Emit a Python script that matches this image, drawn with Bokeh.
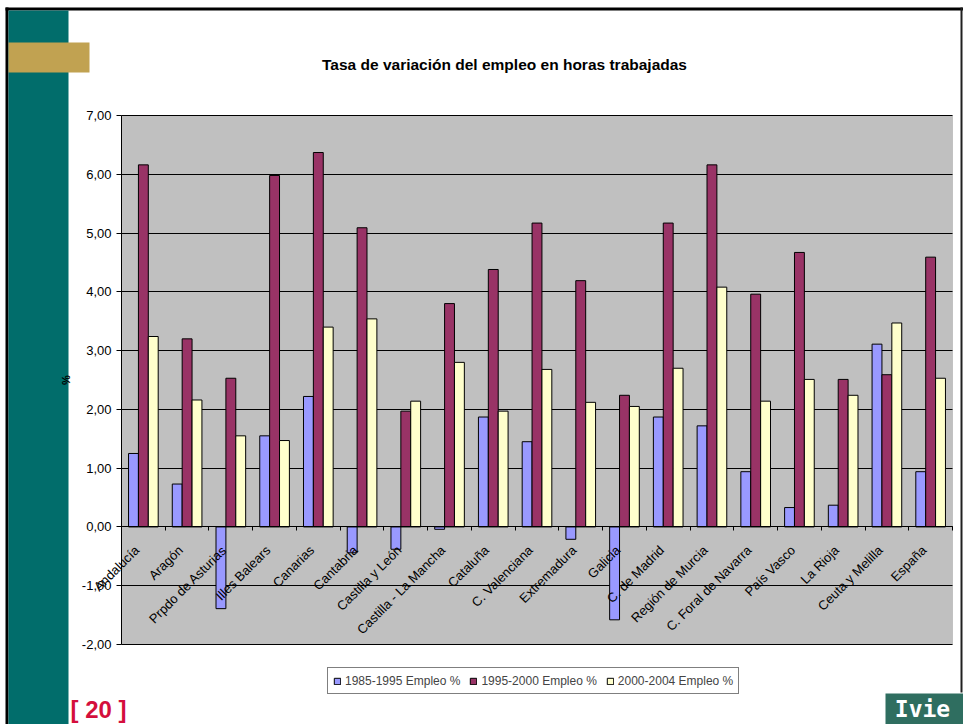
import math
from bokeh.plotting import figure
from bokeh.models import (ColumnDataSource, Range1d, LinearAxis, FixedTicker, Grid,
                          Label, BoxAnnotation, Legend, LegendItem)
from bokeh.embed import file_html
from bokeh.resources import INLINE

# ---------------- data ----------------
categories = ["Andalucía", "Aragón", "Prpdo de Asturias", "Illes Balears", "Canarias",
              "Cantabria", "Castilla y León", "Castilla - La Mancha", "Cataluña",
              "C. Valenciana", "Extremadura", "Galicia", "C. de Madrid",
              "Región de Murcia", "C. Foral de Navarra", "País Vasco", "La Rioja",
              "Ceuta y Melilla", "España"]
empleo_1985_1995 = [1.25, 0.73, -1.39, 1.55, 2.22, -0.44, -0.38, -0.04, 1.87, 1.45,
                    -0.21, -1.58, 1.87, 1.72, 0.94, 0.33, 0.37, 3.11, 0.94]
empleo_1995_2000 = [6.16, 3.20, 2.53, 5.98, 6.37, 5.09, 1.97, 3.80, 4.38, 5.17,
                    4.19, 2.24, 5.17, 6.16, 3.96, 4.67, 2.51, 2.59, 4.59]
empleo_2000_2004 = [3.24, 2.16, 1.55, 1.47, 3.40, 3.54, 2.14, 2.80, 1.97, 2.68,
                    2.12, 2.05, 2.70, 4.08, 2.14, 2.51, 2.24, 3.47, 2.53]
series_names = ["1985-1995 Empleo %", "1995-2000 Empleo %", "2000-2004 Empleo %"]
y_ticks = [-2, -1, 0, 1, 2, 3, 4, 5, 6, 7]
y_tick_labels = ["-2,00", "-1,00", "0,00", "1,00", "2,00", "3,00", "4,00", "5,00", "6,00", "7,00"]
title_text = "Tasa de variación del empleo en horas trabajadas"
y_label = "%"
page_number = "[ 20 ]"
logo_text = "Ivie"

colors = ["#9999FF", "#993366", "#FFFFCC"]
FONT = "Liberation Sans"

# ---------------- layout (pixels) ----------------
W, H = 963, 724
PLOT_L, PLOT_R, PLOT_T, PLOT_B = 121, 952, 115, 644
n = len(categories)
y_lo, y_hi = y_ticks[0], y_ticks[-1]
ux = (PLOT_R - PLOT_L) / n
uy = (PLOT_B - PLOT_T) / (y_hi - y_lo)
x_range = Range1d(-PLOT_L / ux, n + (W - PLOT_R) / ux)
y_range = Range1d(y_lo - (H - PLOT_B) / uy, y_hi + PLOT_T / uy)

centers = [i + 0.5 for i in range(n)]
boundaries = [float(i) for i in range(n + 1)]
label_shift = 6.5 / ux          # rotated labels sit slightly left of the category centre
label_pos = [c - label_shift for c in centers]
bw = 0.226
series = [empleo_1985_1995, empleo_1995_2000, empleo_2000_2004]
offsets = [-bw, 0.0, bw]

p = figure(width=W, height=H, output_backend="svg", toolbar_location=None,
           x_range=x_range, y_range=y_range, title=None,
           x_axis_location=None, y_axis_location=None,
           min_border_left=0, min_border_right=0, min_border_top=0, min_border_bottom=0)
p.background_fill_color = "white"
p.border_fill_color = "white"
p.outline_line_color = None
p.center = [r for r in p.center if not isinstance(r, Grid)]

# plot area
p.add_layout(BoxAnnotation(left=0, right=n, bottom=y_lo, top=y_hi, fill_color="#C0C0C0",
                           fill_alpha=1, line_color="#808080", line_width=1, level="image"))

# grid lines (limited to the plot area)
try:
    grid = Grid(dimension=1, ticker=FixedTicker(ticks=y_ticks), grid_line_color="black",
                grid_line_width=1, cross_bounds=(0, n))
    p.add_layout(grid)
except AttributeError:
    p.segment(x0=[0] * len(y_ticks), x1=[n] * len(y_ticks), y0=y_ticks, y1=y_ticks,
              line_color="black", line_width=1, level="underlay")

renderers = []
for vals, off, col in zip(series, offsets, colors):
    src = ColumnDataSource(dict(x=[c + off for c in centers], top=vals))
    r = p.vbar(x="x", top="top", width=bw, bottom=0, source=src,
               fill_color=col, line_color="black", line_width=1)
    renderers.append(r)

# y axis at x = 0
yax = LinearAxis(ticker=FixedTicker(ticks=y_ticks), fixed_location=0, bounds=(y_lo, y_hi),
                 major_label_overrides={float(t): l for t, l in zip(y_ticks, y_tick_labels)},
                 major_label_text_font=FONT, major_label_text_font_size="13px",
                 major_label_text_color="black", major_tick_out=5, major_tick_in=0,
                 minor_tick_line_color=None, major_label_standoff=5,
                 axis_line_color="black", axis_label=y_label, axis_label_text_font=FONT,
                 axis_label_text_font_style="bold", axis_label_text_font_size="11px",
                 axis_label_standoff=7, axis_label_text_color="black")
p.add_layout(yax, "left")

# category axis along y = 0
xax = LinearAxis(ticker=FixedTicker(ticks=label_pos, minor_ticks=boundaries),
                 fixed_location=0, bounds=(0, n),
                 major_label_overrides={c: name for c, name in zip(label_pos, categories)},
                 major_tick_line_color=None, major_tick_out=0, major_tick_in=0,
                 minor_tick_out=4, minor_tick_in=0, minor_tick_line_color="black",
                 axis_line_color="black", major_label_orientation=math.pi / 4,
                 major_label_text_font=FONT, major_label_text_font_size="13px",
                 major_label_text_color="black", major_label_standoff=17)
p.add_layout(xax, "below")

# legend
legend = Legend(items=[LegendItem(label=nm, renderers=[r]) for nm, r in zip(series_names, renderers)],
                orientation="horizontal", location=(327, 30),
                label_text_font=FONT, label_text_font_size="12px",
                glyph_width=8, glyph_height=8, label_standoff=4, spacing=9,
                padding=5, margin=0, label_height=15,
                border_line_color="black", border_line_width=1,
                background_fill_color="white", background_fill_alpha=1)
p.add_layout(legend, "center")

# decorations (canvas units)
def box(l, r, t, b, color):
    return BoxAnnotation(left=l, right=r, top=t, bottom=b, left_units="canvas", right_units="canvas",
                         top_units="canvas", bottom_units="canvas", fill_color=color,
                         fill_alpha=1, line_color=None, level="image")

p.add_layout(box(5, W, 7, 10, "black"))
p.add_layout(box(5, 8, 7, H, "black"))
p.add_layout(box(960, 962, 7, 692, "#202020"))
p.add_layout(box(8, 68, 10, H, "#016D6B"))
p.add_layout(box(8, 89, 42, 72, "#C1A251"))
p.add_layout(box(885, W, 693, H, "#2F6E60"))

p.add_layout(Label(x=504, y=64, x_units="canvas", y_units="canvas", text=title_text,
                   text_font=FONT, text_font_style="bold", text_font_size="15.5px",
                   text_align="center", text_baseline="middle", text_color="black"))
p.add_layout(Label(x=70, y=709, x_units="canvas", y_units="canvas", text=page_number,
                   text_font=FONT, text_font_style="bold", text_font_size="24px",
                   text_align="left", text_baseline="middle", text_color="#D40F3C"))
p.add_layout(Label(x=922, y=708, x_units="canvas", y_units="canvas", text=logo_text,
                   text_font="DejaVu Sans Mono", text_font_style="bold", text_font_size="23px",
                   text_align="center", text_baseline="middle", text_color="white"))

open("out.html", "w").write(file_html(p, INLINE))
